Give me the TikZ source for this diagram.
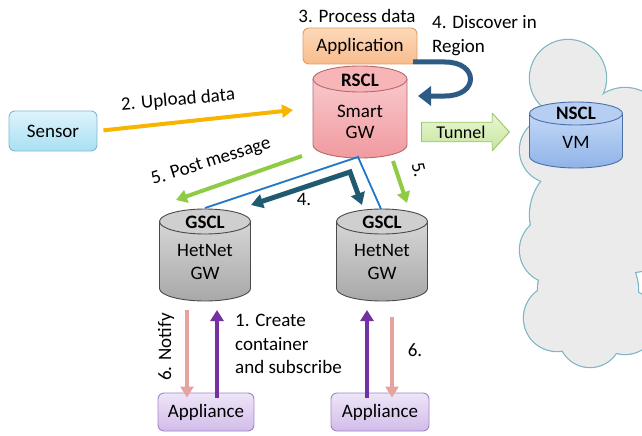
\documentclass[tikz,border=0pt]{standalone}
\usepackage{fontspec}
\setmainfont{Carlito}
\usetikzlibrary{arrows.meta,shapes.arrows}
\definecolor{sensT}{HTML}{DDF4FC}
\definecolor{sensB}{HTML}{A9DFF2}
\definecolor{sensD}{HTML}{7EB9D0}
\definecolor{appT}{HTML}{FCD9BA}
\definecolor{appB}{HTML}{F8BC8C}
\definecolor{appD}{HTML}{E39C62}
\definecolor{aplT}{HTML}{EEE5F8}
\definecolor{aplB}{HTML}{D2BCEA}
\definecolor{aplD}{HTML}{9F85C6}
\definecolor{tunT}{HTML}{EAF7D6}
\definecolor{tunB}{HTML}{C6E59C}
\definecolor{tunD}{HTML}{9BC565}
\definecolor{orangeC}{HTML}{F7B500}
\definecolor{greenC}{HTML}{8FCB45}
\definecolor{blueC}{HTML}{1F77C8}
\definecolor{tealC}{HTML}{1F5A70}
\definecolor{uturnC}{HTML}{2D5B86}
\definecolor{pinkC}{HTML}{E5A29E}
\definecolor{purpleC}{HTML}{7232A1}
\definecolor{cloudF}{HTML}{EBEBEB}
\definecolor{cloudD}{HTML}{7DB6C4}
\definecolor{rT}{HTML}{F9C8CB}
\definecolor{rB}{HTML}{F09A9E}
\definecolor{rTop}{HTML}{F7B5B8}
\definecolor{rD}{HTML}{B5696B}
\definecolor{gT}{HTML}{D6D6D6}
\definecolor{gB}{HTML}{A8A8A8}
\definecolor{gTop}{HTML}{CFCFCF}
\definecolor{gD}{HTML}{4A4A4A}
\definecolor{nT}{HTML}{C4D8F6}
\definecolor{nB}{HTML}{8FB3E8}
\definecolor{nTop}{HTML}{B6CEF2}
\definecolor{nD}{HTML}{4A70A8}
% cx, top, bottom, half width, ry, body top colour, body bottom colour, lid colour, border
\newcommand\mycyl[9]{%
  \path[draw=#9, line width=0.9pt, top color=#6, bottom color=#7]
    (#1-#4,#2+#5) -- (#1-#4,#3-#5) arc[start angle=180, end angle=360, x radius=#4pt, y radius=#5pt]
    -- (#1+#4,#2+#5) -- cycle;
  \path[draw=#9, line width=0.9pt, fill=#8] (#1,#2+#5) ellipse[x radius=#4pt, y radius=#5pt];
}
\begin{document}
\begin{tikzpicture}[x=1pt,y=-1pt, font=\fontsize{19}{23}\selectfont, line join=round,
  lbl/.style={inner sep=0pt},
  rbox/.style={rounded corners=6pt, line width=0.9pt, inner sep=0pt},
  ctitle/.style={inner sep=0pt, font=\fontsize{19}{23}\selectfont\bfseries},
  ctext/.style={inner sep=0pt, align=center},
  fat/.style={line width=4pt, -{Triangle[length=11pt,width=13pt]}},
  fatter/.style={line width=5pt},
]
\useasboundingbox (0,0) rectangle (642,436);
\clip (0,0) rectangle (642,436);

% cloud
\foreach \cx/\cy/\r in {568/78/38, 625/128/40, 553/150/33, 585/215/55, 553/250/33,
  588/290/50, 557/318/33, 590/336/31, 625/322/32, 632/230/42, 640/170/35}
  {\draw[cloudD, line width=2.4pt] (\cx,\cy) circle[radius=\r pt];}
\foreach \cx/\cy/\r in {568/78/38, 625/128/40, 553/150/33, 585/215/55, 553/250/33,
  588/290/50, 557/318/33, 590/336/31, 625/322/32, 632/230/42, 640/170/35}
  {\fill[cloudF] (\cx,\cy) circle[radius=\r pt];}

% boxes
\node[rbox, draw=sensD, top color=sensT, bottom color=sensB, minimum width=88pt, minimum height=40pt] (sensor) at (53,131) {Sensor};
\node[rbox, draw=appD, top color=appT, bottom color=appB, minimum width=114pt, minimum height=36pt] (app) at (360,46) {Application};
\node[rbox, draw=aplD, top color=aplT, bottom color=aplB, minimum width=96pt, minimum height=38pt] (apl) at (206,412) {Appliance};
\node[rbox, draw=aplD, top color=aplT, bottom color=aplB, minimum width=98pt, minimum height=38pt] (apr) at (380,412) {Appliance};

% cylinders
\mycyl{360}{66}{158}{47}{13}{rT}{rB}{rTop}{rD}
\node[ctitle] (rscl) at (360,80) {RSCL};
\node[ctext] (rsclb) at (360,122) {Smart\\[-2pt]GW};
\mycyl{205}{209}{301}{45.5}{12.5}{gT}{gB}{gTop}{gD}
\node[ctitle] (gsl) at (205,222) {GSCL};
\node[ctext] (gslb) at (205,262) {HetNet\\GW};
\mycyl{382}{209}{301}{45.5}{12.5}{gT}{gB}{gTop}{gD}
\node[ctitle] (gsr) at (382,222) {GSCL};
\node[ctext] (gsrb) at (382,262) {HetNet\\GW};
\mycyl{576}{102}{168}{46.5}{11.5}{nT}{nB}{nTop}{nD}
\node[ctitle] (nscl) at (576,113) {NSCL};
\node[ctext] (vm) at (576,142) {VM};

% tunnel
\node[single arrow, draw=tunD, line width=0.9pt, top color=tunT, bottom color=tunB,
  single arrow head extend=9pt, single arrow tip angle=95, minimum height=88pt,
  inner xsep=4pt, inner ysep=3pt, anchor=tail, font=\fontsize{18}{22}\selectfont] (tunnel) at (421,132) {Tunnel};

% labels
\node[lbl] (l3) at (357,16) {3. Process data};
\node[lbl, anchor=north west, align=left] (l4) at (432,15) {4. Discover in\\[1pt]Region};
\node[lbl, rotate=5] (l2) at (178,100) {2. Upload data};
\node[lbl, rotate=17.5] (l5) at (211,162) {5. Post message};
\node[lbl] (l4b) at (304,199) {4.};
\node[lbl, rotate=-75] (l5b) at (419,170) {5.};
\node[lbl, rotate=90] (l6) at (166,347) {6. Notify};
\node[lbl, anchor=north west, align=left] (l1) at (235,314) {1. Create\\[0.5pt]container\\[0.5pt]and subscribe};
\node[lbl] (l6b) at (415,350) {6.};

% connector end points
\coordinate (upEnd) at (293,110);
\coordinate (uA) at (413,62);
\coordinate (uB) at (418,96);
\coordinate (bl) at (205,208);
\coordinate (bm) at (358,157);
\coordinate (br) at (381,209);
\coordinate (dL) at (251,205);
\coordinate (dM) at (350,172);
\coordinate (dR) at (362,205);
\coordinate (pmS) at (302,156);
\coordinate (pmE) at (176,200);
\coordinate (f5S) at (393,161);
\coordinate (f5E) at (407,203);
\coordinate (nLt) at (187,310);
\coordinate (pLt) at (217,310);
\coordinate (pRt) at (367,310);
\coordinate (nRt) at (392,317);

% connectors
\draw[fat, orangeC, shorten <=6pt] (sensor.east) -- (upEnd);
\draw[fatter, uturnC, -{Triangle[length=13pt,width=19pt]}] (uA) -- (445,62) .. controls (479,62) and (479,96) .. (445,96) -- (uB);
\draw[blueC, line width=1.8pt, line join=miter] (bl) -- (bm) -- (br);
\draw[fatter, tealC, line join=miter, {Triangle[length=12pt,width=14pt]}-{Triangle[length=12pt,width=14pt]}] (dL) -- (dM) -- (dR);
\draw[fat, greenC] (pmS) -- (pmE);
\draw[fat, greenC] (f5S) -- (f5E);
\draw[fat, pinkC] (nLt) -- ([yshift=-5pt]nLt |- apl.north);
\draw[fat, purpleC] ([yshift=-5pt]pLt |- apl.north) -- (pLt);
\draw[fat, purpleC] ([yshift=-5pt]pRt |- apr.north) -- (pRt);
\draw[fat, pinkC] (nRt) -- ([yshift=-5pt]nRt |- apr.north);
\end{tikzpicture}
\end{document}
